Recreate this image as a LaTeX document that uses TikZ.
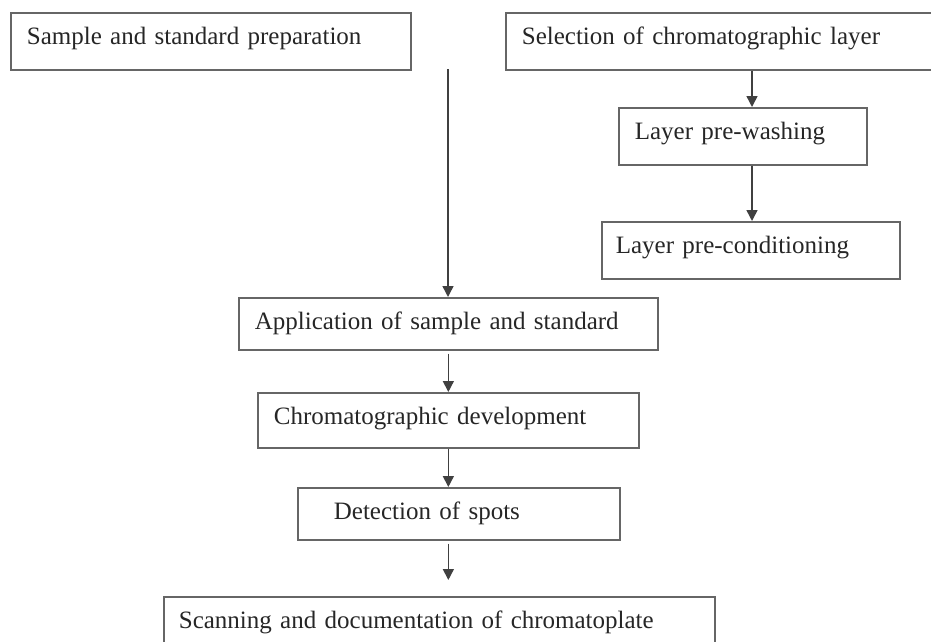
\documentclass[tikz,border=0pt]{standalone}
\usepackage{fontspec}
\setmainfont{Liberation Serif}
\usetikzlibrary{arrows.meta,calc}

\begin{document}
\begin{tikzpicture}[
    x=1pt, y=-1pt,
    stepbox/.style={rectangle, draw=black!60, line width=1.7pt, anchor=north west,
        inner xsep=16pt, inner ysep=0pt, text height=32pt, text depth=25pt,
        align=left, text=black!85, font=\fontsize{25}{30}\selectfont},
    arrow/.style={-{Triangle[length=11pt,width=11pt]}, draw=black!75, line width=1.5pt}
]
\useasboundingbox (0,0) rectangle (931,642);
\clip (0,0) rectangle (931,642);

% top row
\node[stepbox, text width=368pt] (sample) at (10,12) {Sample and standard preparation};
\node[stepbox, text width=408pt] (sel) at (505,12) {Selection of chromatographic layer};

% layer branch
\node[stepbox, text width=216pt] (wash) at (618,107) {Layer pre-washing};
\node[stepbox, text width=270pt, inner xsep=14pt] (cond) at (601,221) {Layer pre-conditioning};

% main column
\node[stepbox, text width=387pt, text depth=20pt] (app) at (238,297) {Application of sample and standard};
\node[stepbox, text width=349pt, text depth=23pt] (dev) at (257,392) {Chromatographic development};
\node[stepbox, text width=290pt, text depth=20pt] (det) at (297,487) {\hspace*{20pt}Detection of spots};
\node[stepbox, text width=521pt, inner xsep=15pt] (scan) at (163,596) {Scanning and documentation of chromatoplate};

\coordinate (feed) at (448,69);
\coordinate (col) at (752,0);

\draw[arrow] (feed) -- (feed |- app.north);
\draw[arrow] (sel.south -| col) -- (wash.north -| col);
\draw[arrow] (wash.south -| col) -- (cond.north -| col);
\draw[arrow, shorten <=3pt] (app.south) -- (dev.north);
\draw[arrow] (dev.south) -- (dev.south |- det.north);
\draw[arrow, shorten <=3pt, shorten >=16pt] (dev.south |- det.south) -- (dev.south |- scan.north);
\end{tikzpicture}
\end{document}
